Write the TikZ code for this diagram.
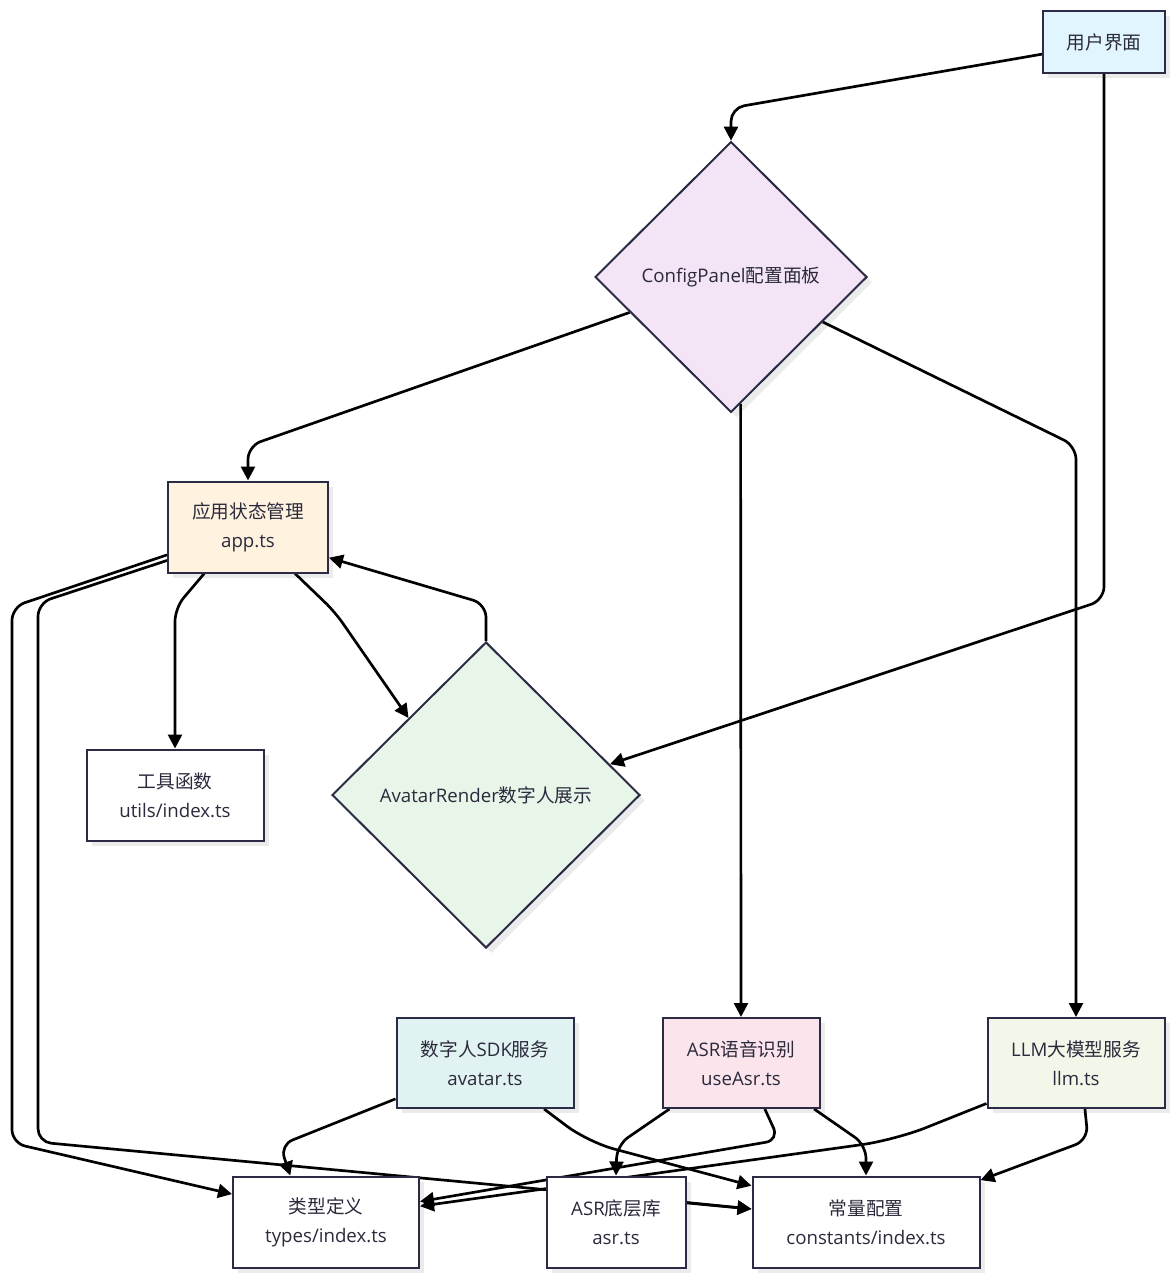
\documentclass[tikz,border=0pt]{standalone}
\usepackage{fontspec}
\setmainfont{Open Sans}
\newfontfamily\cjk{Noto Sans CJK SC}
\usetikzlibrary{shapes.geometric,arrows.meta,calc,shadows}
\pgfdeclarelayer{bg}
\pgfsetlayers{bg,main}
\definecolor{bordc}{HTML}{2B2B45}
\definecolor{textc}{HTML}{2A2A3C}
\definecolor{cUI}{HTML}{E1F5FE}
\definecolor{cCfg}{HTML}{F3E5F5}
\definecolor{cApp}{HTML}{FFF3E0}
\definecolor{cAv}{HTML}{E8F5E9}
\definecolor{cSvc}{HTML}{E0F2F1}
\definecolor{cAsr}{HTML}{FCE4EC}
\definecolor{cLlm}{HTML}{F1F8E9}
\begin{document}
\begin{tikzpicture}[x=0.75pt,y=-0.75pt,
  box/.style={draw=bordc, line width=1.5pt, rectangle, inner sep=0pt, align=center,
    text=textc, font=\fontsize{14}{22}\selectfont, fill=white,
    drop shadow={shadow xshift=4pt,shadow yshift=-4pt,fill=black,opacity=0.08}},
  dia/.style={box, diamond, aspect=1},
  edge/.style={draw=black, line width=2pt, rounded corners=10pt,
    -{Triangle[length=10.5pt,width=10.5pt]}}]
\useasboundingbox (0,0) rectangle (1176,1280);

% nodes
\node[box, fill=cUI, minimum width=91.5pt, minimum height=46.5pt] (ui) at (1104,42) {{\cjk 用户界面}};
\node[dia, fill=cCfg, minimum width=204pt, minimum height=203pt] (config) at (731,277) {ConfigPanel{\cjk 配置面板}};
\node[box, fill=cApp, minimum width=120pt, minimum height=68.25pt] (app) at (248,527) {{\cjk 应用状态管理}\\app.ts};
\node[box, minimum width=132.75pt, minimum height=68.25pt] (utils) at (175,795) {{\cjk 工具函数}\\utils/index.ts};
\node[dia, fill=cAv, minimum width=231pt, minimum height=229.5pt] (avatar) at (486,795) {AvatarRender{\cjk 数字人展示}};
\node[box, fill=cSvc, minimum width=132.75pt, minimum height=67.5pt] (avsvc) at (485,1063) {{\cjk 数字人}SDK{\cjk 服务}\\avatar.ts};
\node[box, fill=cAsr, minimum width=117.75pt, minimum height=67.5pt] (asr) at (741,1063) {ASR{\cjk 语音识别}\\useAsr.ts};
\node[box, fill=cLlm, minimum width=132.75pt, minimum height=67.5pt] (llm) at (1076,1063) {LLM{\cjk 大模型服务}\\llm.ts};
\node[box, minimum width=139.5pt, minimum height=68.25pt] (types) at (326,1222) {{\cjk 类型定义}\\types/index.ts};
\node[box, minimum width=104.25pt, minimum height=68.25pt] (asrlib) at (616,1222) {ASR{\cjk 底层库}\\asr.ts};
\node[box, minimum width=170.25pt, minimum height=68.25pt] (const) at (866,1222) {{\cjk 常量配置}\\constants/index.ts};

% edges
\begin{pgfonlayer}{bg}
\draw[edge] ($(ui.north west)!0.69!(ui.south west)$) -- (731,108) -- (config.north);
\draw[edge] (ui.south) -- (1104,600) -- ($(avatar.north)!0.8!(avatar.east)$);
\draw[edge] ($(config.west)!0.26!(config.south)$) -- (248,446) -- (app.north);
\draw[edge] ($(config.south)!0.07!(config.east)$) -- (asr.north);
\draw[edge] ($(config.south)!0.67!(config.east)$) -- (1076,446) -- (llm.north);
\draw[edge] ($(app.south west)!0.23!(app.south east)$) -- (175,608) -- (utils.north);
\draw[edge] ($(app.south west)!0.79!(app.south east)$) -- (335,612) -- ($(avatar.west)!0.5!(avatar.north)$);
\draw[edge] (avatar.north) -- (486,604) -- ($(app.north east)!0.83!(app.south east)$);
\draw[edge] ($(app.north west)!0.80!(app.south west)$) -- (12,607) -- (12,1143) -- ($(types.north west)!0.2!(types.south west)$);
\draw[edge] ($(app.north west)!0.86!(app.south west)$) -- (38,603) -- (38,1142) -- ($(const.north west)!0.36!(const.south west)$);
\draw[edge] ($(avsvc.north west)!0.89!(avsvc.south west)$) -- (280,1145) -- ($(types.north west)!0.31!(types.north east)$);
\draw[edge, rounded corners=20pt] ($(avsvc.south west)!0.83!(avsvc.south east)$) -- (588,1142) -- ($(const.north west)!0.11!(const.south west)$);
\draw[edge] ($(asr.south west)!0.05!(asr.south east)$) -- (617,1145) -- (asrlib.north);
\draw[edge] ($(asr.south west)!0.65!(asr.south east)$) -- (779,1140) -- ($(types.north east)!0.28!(types.south east)$);
\draw[edge] ($(asr.south west)!0.96!(asr.south east)$) -- (866,1145) -- (const.north);
\draw[edge, rounded corners=25pt] ($(llm.north west)!0.94!(llm.south west)$) -- (895,1140) -- ($(types.north east)!0.33!(types.south east)$);
\draw[edge] ($(llm.south west)!0.55!(llm.south east)$) -- (1088,1140) -- ($(const.north east)!0.05!(const.south east)$);
\draw[edge] ($(asrlib.north east)!0.29!(asrlib.south east)$) -- ($(const.north west)!0.36!(const.south west)$);
\end{pgfonlayer}
\end{tikzpicture}
\end{document}
